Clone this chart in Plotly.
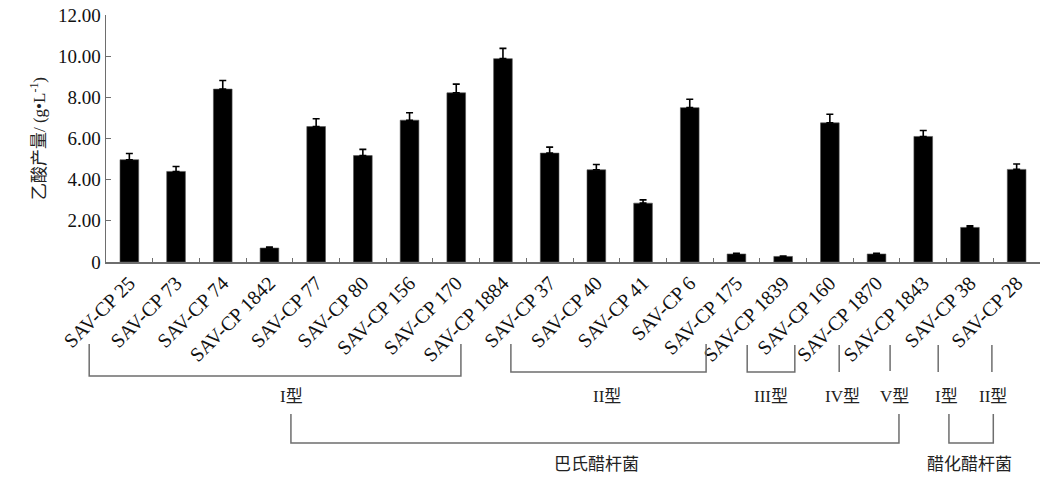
import plotly.graph_objects as go

# ---- data ----
strains = ["SAV-CP 25", "SAV-CP 73", "SAV-CP 74", "SAV-CP 1842", "SAV-CP 77",
           "SAV-CP 80", "SAV-CP 156", "SAV-CP 170", "SAV-CP 1884", "SAV-CP 37",
           "SAV-CP 40", "SAV-CP 41", "SAV-CP 6", "SAV-CP 175", "SAV-CP 1839",
           "SAV-CP 160", "SAV-CP 1870", "SAV-CP 1843", "SAV-CP 38", "SAV-CP 28"]
acid = [4.97, 4.40, 8.40, 0.68, 6.58, 5.17, 6.89, 8.22, 9.88, 5.29,
        4.48, 2.86, 7.50, 0.39, 0.27, 6.76, 0.39, 6.10, 1.68, 4.50]
acid_err = [0.30, 0.24, 0.42, 0.05, 0.38, 0.30, 0.36, 0.42, 0.50, 0.29,
            0.26, 0.16, 0.41, 0.03, 0.02, 0.42, 0.03, 0.29, 0.08, 0.26]
y_ticks = [0, 2, 4, 6, 8, 10, 12]
y_tick_text = ["0", "2.00", "4.00", "6.00", "8.00", "10.00", "12.00"]

type_labels = ["I型", "II型", "III型", "IV型", "V型", "I型", "II型"]
species_labels = ["巴氏醋杆菌", "醋化醋杆菌"]

# ---- layout geometry (category-index units / pixels) ----
W, H = 1061, 492
L, R, T, B = 106, 1040, 15, 262
N = len(strains)

type_x0 = [-0.86, 8.17, 13.23, 15.20, 16.29, 17.32, 18.47]
type_x1 = [7.10, 12.35, 14.25, 15.20, 16.29, 17.32, 18.47]
type_lab = [3.48, 10.22, 13.75, 15.28, 16.39, 17.50, 18.49]
type_ytop = [344, 344, 345, 345, 345, 345, 345]
type_ybot = [376, 372, 372, 372, 371, 372, 372]
species_x0 = [3.46, 17.55]
species_x1 = [16.48, 18.50]
species_lab = [10.01, 18.0]


def px_x(i):
    return (i + 0.5) / N


def py(p):
    # p is a pixel row of the figure
    return (B - p) / (B - T)


font_serif = "Liberation Serif, Times New Roman, serif"
font_mix = "Liberation Serif, Noto Sans CJK SC, serif"
line_col = "#6e6e6e"

fig = go.Figure()
fig.add_trace(go.Bar(
    x=strains, y=acid,
    marker=dict(color="black", line=dict(color="#555", width=0.6)),
    width=0.4,
    error_y=dict(type="data", array=acid_err, arrayminus=[0] * N, symmetric=False,
                 color="black", thickness=1.6, width=3.5),
    showlegend=False,
))

shapes = []
annotations = []
for i in range(len(type_labels)):
    x0, x1 = px_x(type_x0[i]), px_x(type_x1[i])
    yt, yb = py(type_ytop[i]), py(type_ybot[i])
    if type_x0[i] == type_x1[i]:
        path = f"M {x0},{yt} L {x0},{yb}"
    else:
        path = f"M {x0},{yt} L {x0},{yb} L {x1},{yb} L {x1},{yt}"
    shapes.append(dict(type="path", xref="paper", yref="paper", path=path,
                       line=dict(color=line_col, width=1.5)))
    annotations.append(dict(x=px_x(type_lab[i]), y=py(396), xref="paper", yref="paper",
                            text=type_labels[i], showarrow=False,
                            font=dict(family=font_mix, size=17, color="#222"),
                            xanchor="center", yanchor="middle"))

for i in range(len(species_labels)):
    x0, x1 = px_x(species_x0[i]), px_x(species_x1[i])
    yt, yb = py(414), py(443)
    path = f"M {x0},{yt} L {x0},{yb} L {x1},{yb} L {x1},{yt}"
    shapes.append(dict(type="path", xref="paper", yref="paper", path=path,
                       line=dict(color=line_col, width=1.5)))
    annotations.append(dict(x=px_x(species_lab[i]), y=py(464), xref="paper", yref="paper",
                            text=species_labels[i], showarrow=False,
                            font=dict(family=font_mix, size=17, color="#222"),
                            xanchor="center", yanchor="middle"))

fig.update_layout(
    width=W, height=H,
    margin=dict(l=L, r=W - R, t=T, b=H - B, pad=0, autoexpand=False),
    plot_bgcolor="white", paper_bgcolor="white",
    shapes=shapes, annotations=annotations,
    bargap=0.6,
    xaxis=dict(
        type="category", range=[-0.5, N - 0.5], automargin=False,
        showline=True, linecolor=line_col, linewidth=1.5,
        ticks="inside", tickson="boundaries", ticklen=4, tickcolor=line_col,
        tickangle=-45, showgrid=False, zeroline=False,
        ticklabeloverflow="allow",
        tickfont=dict(family=font_serif, size=20, color="#111"),
    ),
    yaxis=dict(
        range=[0, 12], tickvals=y_ticks, ticktext=y_tick_text, automargin=False,
        showline=True, linecolor=line_col, linewidth=1.5,
        ticks="inside", ticklen=5, tickcolor=line_col,
        showgrid=False, zeroline=False,
        ticklabeloverflow="allow",
        tickfont=dict(family=font_serif, size=19, color="#111"),
        title=dict(text="乙酸产量/ (g•L<sup>-1</sup>)", standoff=8,
                   font=dict(family=font_mix, size=17, color="#222")),
    ),
)

fig.write_html("out.html",
               config={"displayModeBar": False, "staticPlot": True},
               post_script="document.body.style.margin='0';document.body.style.overflow='hidden';")
